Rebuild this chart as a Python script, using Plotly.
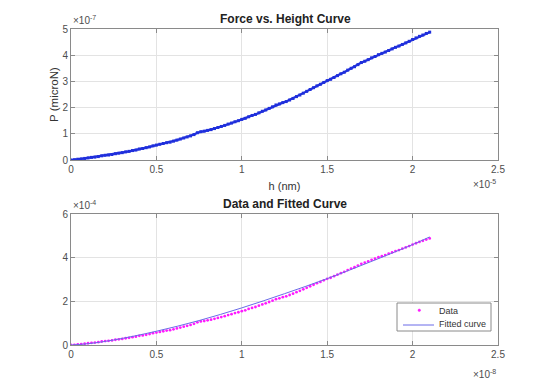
import plotly.graph_objects as go

# h in units of 1e-5 (top) ; bottom axis uses h * 1e-3 in units of 1e-8 (same numbers)
h = [0.00, 0.02, 0.04, 0.06, 0.08, 0.10, 0.12, 0.14, 0.16, 0.18,
     0.20, 0.22, 0.24, 0.26, 0.28, 0.30, 0.32, 0.34, 0.36, 0.38,
     0.40, 0.42, 0.44, 0.46, 0.48, 0.50, 0.52, 0.54, 0.56, 0.58,
     0.60, 0.62, 0.64, 0.66, 0.68, 0.70, 0.72, 0.74, 0.76, 0.78,
     0.80, 0.82, 0.84, 0.86, 0.88, 0.90, 0.92, 0.94, 0.96, 0.98,
     1.00, 1.02, 1.04, 1.06, 1.08, 1.10, 1.12, 1.14, 1.16, 1.18,
     1.20, 1.22, 1.24, 1.26, 1.28, 1.30, 1.32, 1.34, 1.36, 1.38,
     1.40, 1.42, 1.44, 1.46, 1.48, 1.50, 1.52, 1.54, 1.56, 1.58,
     1.60, 1.62, 1.64, 1.66, 1.68, 1.70, 1.72, 1.74, 1.76, 1.78,
     1.80, 1.82, 1.84, 1.86, 1.88, 1.90, 1.92, 1.94, 1.96, 1.98,
     2.00, 2.02, 2.04, 2.06, 2.08, 2.10]
# P in units of 1e-7 (top) ; bottom axis uses P * 1e3 in units of 1e-4 (same numbers)
P = [0.00, 0.01, 0.03, 0.04, 0.06, 0.08, 0.10, 0.11, 0.13, 0.16,
     0.18, 0.19, 0.21, 0.24, 0.26, 0.28, 0.31, 0.33, 0.36, 0.38,
     0.42, 0.44, 0.47, 0.50, 0.54, 0.57, 0.60, 0.63, 0.66, 0.68,
     0.72, 0.76, 0.80, 0.84, 0.88, 0.92, 0.97, 1.04, 1.08, 1.10,
     1.13, 1.16, 1.20, 1.24, 1.28, 1.32, 1.37, 1.41, 1.46, 1.50,
     1.55, 1.59, 1.65, 1.70, 1.74, 1.80, 1.86, 1.91, 1.97, 2.03,
     2.10, 2.14, 2.19, 2.23, 2.29, 2.35, 2.42, 2.48, 2.55, 2.62,
     2.69, 2.76, 2.83, 2.89, 2.96, 3.03, 3.08, 3.15, 3.22, 3.29,
     3.35, 3.43, 3.50, 3.56, 3.64, 3.72, 3.77, 3.83, 3.90, 3.95,
     4.02, 4.07, 4.12, 4.18, 4.24, 4.30, 4.35, 4.41, 4.47, 4.53,
     4.60, 4.66, 4.72, 4.77, 4.83, 4.88]

fit_h = [0.00, 0.10, 0.25, 0.50, 0.75, 1.00, 1.25, 1.50, 1.75, 2.00, 2.10]
fit_P = [0.00, 0.06, 0.23, 0.63, 1.12, 1.70, 2.35, 3.04, 3.80, 4.60, 4.95]

x_ticks = [0, 0.5, 1, 1.5, 2, 2.5]
x_ticklabels = ["0", "0.5", "1", "1.5", "2", "2.5"]
top_y_ticks = [0, 1, 2, 3, 4, 5]
bot_y_ticks = [0, 2, 4, 6]

FONT = "Liberation Sans, Arial, sans-serif"
TICKC = "#4d4d4d"
DATA_C = "#ff1aff"
FIT_C = "#6a6ae8"

ML, MR = 71, 52
PLOT_W = 550 - ML - MR

fig = go.Figure()
fig.add_trace(go.Scatter(x=h, y=P, mode="lines+markers",
                         line=dict(color="#1f2fdc", width=2.2),
                         marker=dict(color="#1f2fdc", size=3, symbol="square"),
                         showlegend=False, xaxis="x", yaxis="y"))
fig.add_trace(go.Scatter(x=h, y=P, mode="markers", name="Data", showlegend=False,
                         marker=dict(color=DATA_C, size=2.8),
                         xaxis="x2", yaxis="y2"))
fig.add_trace(go.Scatter(x=fit_h, y=fit_P, mode="lines", name="Fitted curve", showlegend=False,
                         line=dict(color=FIT_C, width=1, shape="spline"),
                         xaxis="x2", yaxis="y2"))

axis_common = dict(showgrid=True, gridcolor="#e3e3e3", gridwidth=1, automargin=False,
                   zeroline=False, showline=True, linecolor="#8a8a8a", linewidth=1,
                   mirror="ticks", ticks="inside", ticklen=4, tickcolor="#8a8a8a",
                   tickfont=dict(family=FONT, size=10, color=TICKC))

fig.update_layout(
    width=550, height=390,
    margin=dict(l=ML, r=MR, t=0, b=0, autoexpand=False),
    paper_bgcolor="white", plot_bgcolor="white",
    font=dict(family=FONT, size=10, color=TICKC),
    showlegend=False,
    xaxis=dict(domain=[0, 1], range=[0, 2.5], tickvals=x_ticks, ticktext=x_ticklabels,
               anchor="y", title=dict(text="h (nm)", standoff=8,
                                      font=dict(family=FONT, size=11, color="#333333")),
               **axis_common),
    yaxis=dict(domain=[1 - 160 / 390, 1 - 29 / 390], range=[0, 5], tickvals=top_y_ticks,
               anchor="x", title=dict(text="P (microN)", standoff=1,
                                      font=dict(family=FONT, size=11.5, color="#333333")),
               **axis_common),
    xaxis2=dict(domain=[0, 1], range=[0, 2.5], tickvals=x_ticks, ticktext=x_ticklabels,
                anchor="y2", **axis_common),
    yaxis2=dict(domain=[1 - 345 / 390, 1 - 214 / 390], range=[0, 6], tickvals=bot_y_ticks,
                anchor="x2", **axis_common),
)

def px(x):
    return (x - ML) / PLOT_W

def py(y):
    return 1 - y / 390

ann = [
    dict(text="<b>Force vs. Height Curve</b>", x=px(285), y=py(19), xref="paper", yref="paper",
         xanchor="center", yanchor="middle",
         showarrow=False, font=dict(family=FONT, size=12, color="#222222")),
    dict(text="<b>Data and Fitted Curve</b>", x=px(285), y=py(204), xref="paper", yref="paper",
         xanchor="center", yanchor="middle",
         showarrow=False, font=dict(family=FONT, size=12, color="#222222")),
    dict(text="×10<sup>-7</sup>", x=0.0, y=py(28), xref="paper", yref="paper",
         xanchor="left", yanchor="bottom", showarrow=False, font=dict(family=FONT, size=10, color=TICKC)),
    dict(text="×10<sup>-5</sup>", x=1.0, y=py(184), xref="paper", yref="paper",
         xanchor="right", yanchor="middle", showarrow=False, font=dict(family=FONT, size=10, color=TICKC)),
    dict(text="×10<sup>-4</sup>", x=0.0, y=py(213), xref="paper", yref="paper",
         xanchor="left", yanchor="bottom", showarrow=False, font=dict(family=FONT, size=10, color=TICKC)),
    dict(text="×10<sup>-8</sup>", x=1.0, y=py(374), xref="paper", yref="paper",
         xanchor="right", yanchor="middle", showarrow=False, font=dict(family=FONT, size=10, color=TICKC)),
    # legend texts
    dict(text="Data", x=px(437), y=py(311), xref="paper", yref="paper",
         xanchor="left", yanchor="middle", showarrow=False, font=dict(family=FONT, size=9, color="#333333")),
    dict(text="Fitted curve", x=px(437), y=py(324), xref="paper", yref="paper",
         xanchor="left", yanchor="middle", showarrow=False, font=dict(family=FONT, size=9, color="#333333")),
]

shapes = [
    dict(type="rect", xref="paper", yref="paper", x0=px(397), x1=px(491), y0=py(331), y1=py(303),
         line=dict(color="#8a8a8a", width=1), fillcolor="white", layer="above"),
    dict(type="circle", xref="paper", yref="paper", x0=px(418), x1=px(420.5), y0=py(311.5), y1=py(309),
         line=dict(color=DATA_C, width=0.5), fillcolor=DATA_C, layer="above"),
    dict(type="line", xref="paper", yref="paper", x0=px(403), x1=px(434), y0=py(325), y1=py(325),
         line=dict(color=FIT_C, width=1), layer="above"),
]

fig.update_layout(annotations=ann, shapes=shapes)

fig.write_html("out.html", config={"displayModeBar": False},
               post_script="document.body.style.margin='0px';document.body.style.overflow='hidden';")
